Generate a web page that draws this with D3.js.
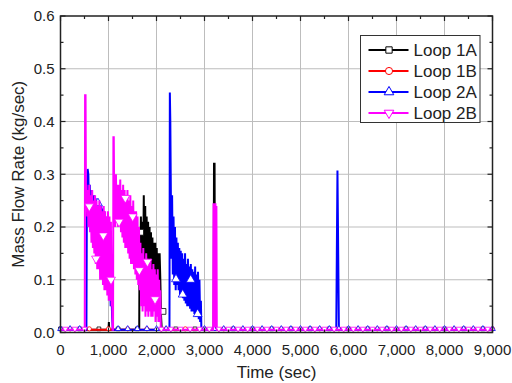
<!DOCTYPE html>
<html>
<head>
<meta charset="utf-8">
<script src="https://cdn.jsdelivr.net/npm/d3@7"></script>
<style>
  body { margin: 0; background: #fff; }
  text { font-family: "Liberation Sans", Arial, sans-serif; fill: #222; }
</style>
</head>
<body>
<div id="chart"></div>
<script>
// series data: [time (s), mass flow rate (kg/s)]
const loop1A = [
  [0, 0.005], [1000, 0.005], [1008, 0.02], [1015, 0.005], [1640, 0.005], [1648, 0.20],
  [1660, 0.08], [1675, 0.22], [1690, 0.07], [1705, 0.21], [1720, 0.09], [1735, 0.26],
  [1750, 0.10], [1765, 0.24], [1780, 0.08], [1795, 0.22], [1810, 0.07], [1825, 0.21],
  [1840, 0.08], [1855, 0.20], [1870, 0.06], [1885, 0.19], [1900, 0.07], [1915, 0.18],
  [1930, 0.05], [1945, 0.17], [1960, 0.06], [1975, 0.17], [1990, 0.04], [2005, 0.16],
  [2020, 0.05], [2035, 0.15], [2050, 0.04], [2065, 0.15], [2080, 0.10], [2095, 0.03],
  [2110, 0.005], [3190, 0.005], [3198, 0.32], [3210, 0.32], [3218, 0.005], [9000, 0.005]
];
const loop1B = [[0, 0.005], [9000, 0.005]];
const loop2A = [
  [0, 0.005], [540, 0.005], [550, 0.25], [565, 0.31],
  [580, 0.30], [595, 0.22], [610, 0.28], [625, 0.21], [640, 0.27], [655, 0.19],
  [670, 0.26], [685, 0.18], [700, 0.26], [715, 0.17], [730, 0.255], [745, 0.16],
  [760, 0.25], [775, 0.15], [790, 0.25], [805, 0.14], [820, 0.245], [835, 0.13],
  [850, 0.24], [865, 0.12], [880, 0.235], [895, 0.11], [910, 0.23], [925, 0.10],
  [940, 0.22], [955, 0.09], [970, 0.20], [985, 0.08], [1000, 0.17], [1015, 0.07],
  [1030, 0.13], [1045, 0.05], [1060, 0.09], [1075, 0.03], [1090, 0.005],
  [2270, 0.005], [2278, 0.455], [2288, 0.40], [2296, 0.30],
  [2310, 0.14], [2325, 0.26], [2340, 0.11], [2355, 0.22], [2370, 0.09], [2385, 0.20],
  [2400, 0.08], [2415, 0.18], [2430, 0.09], [2445, 0.17], [2460, 0.08], [2475, 0.16],
  [2490, 0.07], [2505, 0.155], [2520, 0.07], [2535, 0.15], [2550, 0.065], [2565, 0.14],
  [2580, 0.06], [2595, 0.15], [2610, 0.055], [2625, 0.13], [2640, 0.05], [2655, 0.14],
  [2670, 0.05], [2685, 0.125], [2700, 0.045], [2715, 0.13], [2730, 0.04], [2745, 0.12],
  [2760, 0.04], [2775, 0.115], [2790, 0.035], [2805, 0.125], [2820, 0.03], [2835, 0.11],
  [2850, 0.03], [2865, 0.115], [2880, 0.025], [2895, 0.10], [2910, 0.02], [2925, 0.06],
  [2935, 0.005], [5745, 0.005], [5770, 0.307], [5800, 0.005], [9000, 0.005]
];
const loop2B = [
  [0, 0.005], [505, 0.005], [512, 0.45], [522, 0.45], [530, 0.27],
  [540, 0.28], [555, 0.22], [570, 0.27], [585, 0.20], [600, 0.28], [615, 0.19],
  [630, 0.26], [645, 0.17], [660, 0.27], [675, 0.16], [690, 0.25], [705, 0.15],
  [720, 0.26], [735, 0.13], [750, 0.25], [765, 0.12], [780, 0.24], [795, 0.12],
  [810, 0.25], [825, 0.10], [840, 0.24], [855, 0.10], [870, 0.23], [885, 0.09],
  [900, 0.24], [915, 0.08], [930, 0.23], [945, 0.08], [960, 0.22], [975, 0.07],
  [990, 0.23], [1005, 0.06], [1020, 0.22], [1035, 0.06], [1050, 0.21], [1065, 0.05],
  [1075, 0.10], [1085, 0.005], [1095, 0.005], [1102, 0.37], [1110, 0.37], [1118, 0.26],
  [1125, 0.29], [1140, 0.20], [1155, 0.30], [1170, 0.21], [1185, 0.28], [1200, 0.20],
  [1215, 0.28], [1230, 0.21], [1245, 0.29], [1260, 0.19], [1275, 0.27], [1290, 0.18],
  [1305, 0.28], [1320, 0.17], [1335, 0.27], [1350, 0.16], [1365, 0.26], [1380, 0.16],
  [1395, 0.27], [1410, 0.15], [1425, 0.25], [1440, 0.14], [1455, 0.26], [1470, 0.13],
  [1485, 0.24], [1500, 0.13], [1515, 0.25], [1530, 0.12], [1545, 0.23], [1560, 0.11],
  [1575, 0.23], [1590, 0.10], [1605, 0.22], [1620, 0.09], [1635, 0.20], [1650, 0.08],
  [1665, 0.17], [1680, 0.05], [1695, 0.15], [1710, 0.04], [1725, 0.16], [1740, 0.05],
  [1755, 0.14], [1770, 0.03], [1785, 0.15], [1800, 0.04], [1815, 0.14], [1830, 0.03],
  [1845, 0.13], [1860, 0.04], [1875, 0.14], [1890, 0.03], [1905, 0.12], [1920, 0.03],
  [1935, 0.13], [1950, 0.04], [1965, 0.12], [1980, 0.02], [1995, 0.11], [2010, 0.03],
  [2025, 0.12], [2040, 0.02], [2055, 0.10], [2070, 0.02], [2080, 0.08], [2090, 0.005],
  [3180, 0.005], [3188, 0.245], [3198, 0.01], [3208, 0.24], [3218, 0.01], [3228, 0.245],
  [3238, 0.01], [3248, 0.24], [3256, 0.005], [9000, 0.005]
];

// open markers drawn on the curves (off the baseline)
const marks1A = [[1670, 0.19], [2135, 0.04]];
const marks1B = [];
const marks2A = [[780, 0.245], [2406, 0.101], [2545, 0.072], [2712, 0.10], [2857, 0.035]];
const marks2B = [[600, 0.239], [740, 0.14], [892, 0.184], [1052, 0.10], [1220, 0.21],
  [1350, 0.255], [1503, 0.22], [1643, 0.118], [1810, 0.134], [1970, 0.063]];

const seriesNames = ["Loop 1A", "Loop 1B", "Loop 2A", "Loop 2B"];
const seriesColors = ["#000000", "#ff0000", "#0000ff", "#ff00ff"];
const xTicks = [0, 1000, 2000, 3000, 4000, 5000, 6000, 7000, 8000, 9000];
const yTicks = [0.0, 0.1, 0.2, 0.3, 0.4, 0.5, 0.6];

const W = 512, H = 383;
const margin = { top: 16, right: 19.5, bottom: 50.5, left: 60.5 };
const x = d3.scaleLinear().domain([0, 9000]).range([margin.left, W - margin.right]);
const y = d3.scaleLinear().domain([0, 0.6]).range([H - margin.bottom, margin.top]);

const svg = d3.select("#chart").append("svg")
  .attr("width", W).attr("height", H);

// grid
svg.append("g").selectAll("line").data(xTicks.slice(1, -1)).enter().append("line")
  .attr("x1", d => x(d)).attr("x2", d => x(d))
  .attr("y1", y(0)).attr("y2", y(0.6))
  .attr("stroke", "#bdbdbd").attr("stroke-width", 1);
svg.append("g").selectAll("line").data(yTicks.slice(1, -1)).enter().append("line")
  .attr("x1", x(0)).attr("x2", x(9000))
  .attr("y1", d => y(d)).attr("y2", d => y(d))
  .attr("stroke", "#bdbdbd").attr("stroke-width", 1);

// series
const line = d3.line().x(d => x(d[0])).y(d => y(d[1]));
const symbols = [d3.symbolSquare, d3.symbolCircle, d3.symbolTriangle, d3.symbolTriangle];
const allData = [loop1A, loop1B, loop2A, loop2B];
const allMarks = [marks1A, marks1B, marks2A, marks2B];
const baseStep = [400, 400, 200, 200];
const baseOffset = [0, 200, 0, 100];

function valueAt(data, t) {
  for (let i = 1; i < data.length; i++) {
    if (data[i][0] >= t) {
      const a = data[i - 1], b = data[i];
      const f = (t - a[0]) / ((b[0] - a[0]) || 1);
      return a[1] + f * (b[1] - a[1]);
    }
  }
  return data[data.length - 1][1];
}

function markerPath(i, size) {
  return d3.symbol().type(symbols[i]).size(size)();
}

const plot = svg.append("g");
allData.forEach(function(data, i) {
  plot.append("path")
    .datum(data)
    .attr("d", line)
    .attr("fill", "none")
    .attr("stroke", seriesColors[i])
    .attr("stroke-width", 2)
    .attr("stroke-linejoin", "miter");

  // markers every few hundred seconds while the curve sits on the baseline
  const base = d3.range(baseOffset[i], 9001, baseStep[i])
    .map(t => [t, valueAt(data, t)])
    .filter(d => d[1] < 0.01);
  const rot = i === 3 ? 180 : 0;
  plot.append("g").selectAll("path").data(base).enter().append("path")
    .attr("d", markerPath(i, 14))
    .attr("transform", d => "translate(" + x(d[0]) + "," + (y(d[1]) - 1) + ") rotate(" + rot + ")")
    .attr("fill", "#fff").attr("stroke", seriesColors[i]).attr("stroke-width", 0.8);

  plot.append("g").selectAll("path").data(allMarks[i]).enter().append("path")
    .attr("d", markerPath(i, 34))
    .attr("transform", d => "translate(" + x(d[0]) + "," + y(d[1]) + ") rotate(" + rot + ")")
    .attr("fill", "#fff").attr("stroke", seriesColors[i]).attr("stroke-width", 0.8);
});

// frame
svg.append("rect")
  .attr("x", x(0)).attr("y", y(0.6))
  .attr("width", x(9000) - x(0)).attr("height", y(0) - y(0.6))
  .attr("fill", "none").attr("stroke", "#222").attr("stroke-width", 1.5);

// inward ticks on all four sides
const xMinor = d3.range(0, 9001, 500);
const yMinor = d3.range(0, 0.6001, 0.05);
const ticks = svg.append("g").attr("stroke", "#222").attr("stroke-width", 1.2);
xMinor.forEach(function(t) {
  const len = t % 1000 === 0 ? 5 : 3;
  ticks.append("line").attr("x1", x(t)).attr("x2", x(t)).attr("y1", y(0)).attr("y2", y(0) - len);
  ticks.append("line").attr("x1", x(t)).attr("x2", x(t)).attr("y1", y(0.6)).attr("y2", y(0.6) + len);
});
yMinor.forEach(function(v, k) {
  const len = k % 2 === 0 ? 5 : 3;
  ticks.append("line").attr("x1", x(0)).attr("x2", x(0) + len).attr("y1", y(v)).attr("y2", y(v));
  ticks.append("line").attr("x1", x(9000)).attr("x2", x(9000) - len).attr("y1", y(v)).attr("y2", y(v));
});

// tick labels
svg.append("g").selectAll("text").data(xTicks).enter().append("text")
  .attr("x", d => x(d)).attr("y", y(0) + 22)
  .attr("text-anchor", "middle").attr("font-size", 15)
  .text(d => d3.format(",")(d));
svg.append("g").selectAll("text").data(yTicks).enter().append("text")
  .attr("x", x(0) - 6).attr("y", d => y(d)).attr("dy", "0.35em")
  .attr("text-anchor", "end").attr("font-size", 15)
  .text(d => d.toFixed(1));

// axis titles
svg.append("text")
  .attr("x", (x(0) + x(9000)) / 2).attr("y", 378)
  .attr("text-anchor", "middle").attr("font-size", 17)
  .text("Time (sec)");
svg.append("text")
  .attr("transform", "translate(24," + ((y(0) + y(0.6)) / 2) + ") rotate(-90)")
  .attr("text-anchor", "middle").attr("font-size", 17)
  .text("Mass Flow Rate (kg/sec)");

// legend
const legend = svg.append("g").attr("transform", "translate(360.5,35.5)");
legend.append("rect")
  .attr("width", 119.5).attr("height", 87)
  .attr("fill", "#fff").attr("stroke", "#333").attr("stroke-width", 1);
seriesNames.forEach(function(name, i) {
  const cy = 14.5 + i * 21;
  legend.append("line")
    .attr("x1", 8).attr("x2", 48).attr("y1", cy).attr("y2", cy)
    .attr("stroke", seriesColors[i]).attr("stroke-width", 2);
  legend.append("path")
    .attr("d", markerPath(i, 40))
    .attr("transform", "translate(28.5," + cy + ") rotate(" + (i === 3 ? 180 : 0) + ")")
    .attr("fill", "#fff").attr("stroke", seriesColors[i]).attr("stroke-width", 1);
  legend.append("text")
    .attr("x", 53).attr("y", cy).attr("dy", "0.36em")
    .attr("font-size", 17)
    .text(name);
});
</script>
</body>
</html>
